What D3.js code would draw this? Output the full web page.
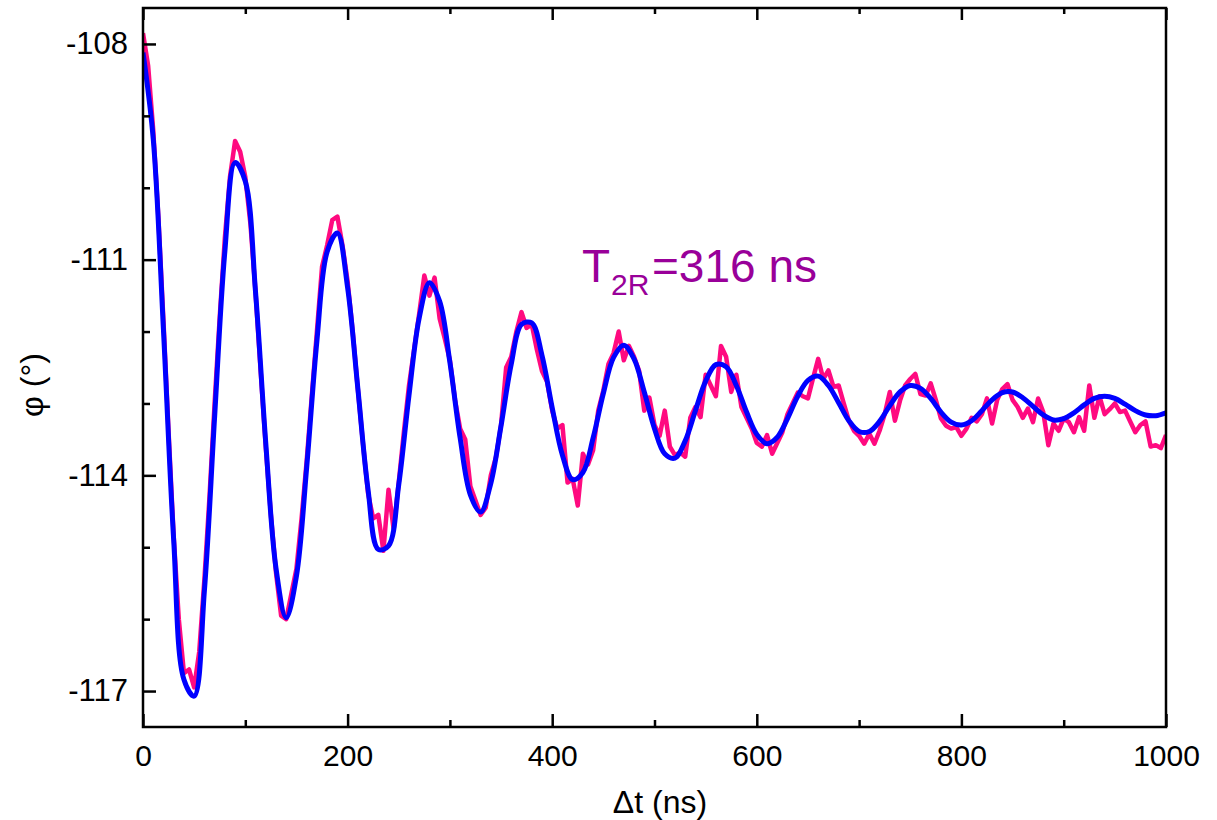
<!DOCTYPE html>
<html>
<head>
<meta charset="utf-8">
<script src="https://cdn.jsdelivr.net/npm/d3@7"></script>
<style>
  body { margin: 0; background: #fff; }
  svg { display: block; }
  text { font-family: "Liberation Sans", Arial, sans-serif; fill: #000; }
</style>
</head>
<body>
<script>
// measured phase (pink), one sample every 5 ns from 0 to 1000 ns
var measStep = 5;
var measured = [
  -107.85, -108.30, -109.20, -110.40, -111.85, -113.40, -114.85, -116.00, -116.75, -116.70,
  -116.95, -116.45, -115.45, -114.30, -113.00, -111.80, -110.70, -109.85, -109.35, -109.50,
  -109.85, -110.50, -111.45, -112.55, -113.60, -114.55, -115.35, -115.95, -116.00, -115.65,
  -115.30, -114.60, -113.80, -112.90, -112.00, -111.10, -110.80, -110.45, -110.40, -110.80,
  -111.30, -112.00, -112.80, -113.55, -114.25, -114.60, -114.55, -115.05, -114.20, -114.75,
  -114.10, -113.40, -112.75, -112.25, -111.75, -111.22, -111.50, -111.25, -111.82, -112.10,
  -112.40, -112.95, -113.35, -113.50, -114.15, -114.35, -114.55, -114.45, -114.00, -113.75,
  -113.30, -112.50, -112.35, -112.00, -111.73, -111.95, -111.90, -112.25, -112.55, -112.70,
  -113.10, -113.35, -113.30, -114.10, -114.05, -114.42, -113.70, -113.85, -113.65, -113.10,
  -112.82, -112.45, -112.30, -112.00, -112.40, -112.20, -112.35, -112.55, -113.10, -112.92,
  -113.30, -113.45, -113.10, -113.60, -113.72, -113.68, -113.74, -113.20, -113.05, -113.19,
  -112.60, -112.75, -112.90, -112.20, -112.35, -112.84, -112.60, -113.05, -113.20, -113.35,
  -113.55, -113.60, -113.44, -113.70, -113.55, -113.40, -113.15, -113.00, -112.85, -112.90,
  -112.93, -112.65, -112.38, -112.66, -112.54, -112.77, -112.75, -113.00, -113.24, -113.38,
  -113.45, -113.56, -113.42, -113.56, -113.38, -113.15, -112.84, -113.24, -112.96, -112.75,
  -112.66, -112.59, -112.87, -112.89, -112.72, -112.95, -113.21, -113.31, -113.35, -113.33,
  -113.45, -113.35, -113.20, -113.25, -113.15, -112.93, -113.28, -112.95, -112.80, -112.73,
  -112.95, -113.05, -113.20, -113.07, -113.26, -112.93, -113.12, -113.58, -113.28, -113.38,
  -113.21, -113.26, -113.40, -113.19, -113.38, -112.75, -113.20, -112.90, -113.15, -113.08,
  -113.00, -113.12, -113.10, -113.25, -113.40, -113.30, -113.25, -113.60, -113.58, -113.62,
  -113.44
];

// fitted curve (blue), one value every 10 ns
var fitStep = 10;
var fitted = [
  -108.12, -109.32, -111.98, -114.90, -116.84, -117.07, -115.61, -113.19, -110.89, -109.65,
  -109.91, -111.45, -113.55, -115.29, -115.98, -115.40, -113.89, -112.13, -110.89, -110.63,
  -111.39, -112.79, -114.20, -115.03, -114.98, -114.13, -112.89, -111.81, -111.32, -111.58,
  -112.43, -113.48, -114.27, -114.51, -114.11, -113.31, -112.45, -111.90, -111.88, -112.33,
  -113.06, -113.72, -114.06, -113.96, -113.48, -112.86, -112.36, -112.19, -112.38, -112.84,
  -113.35, -113.70, -113.76, -113.52, -113.10, -112.69, -112.46, -112.49, -112.75, -113.12,
  -113.43, -113.56, -113.47, -113.21, -112.90, -112.68, -112.62, -112.75, -112.99, -113.24,
  -113.39, -113.39, -113.25, -113.03, -112.84, -112.75, -112.79, -112.93, -113.12, -113.26,
  -113.30, -113.24, -113.10, -112.95, -112.85, -112.84, -112.92, -113.04, -113.16, -113.23,
  -113.21, -113.13, -113.02, -112.93, -112.90, -112.93, -113.01, -113.10, -113.16, -113.17,
  -113.13
];

var xMajor = [0, 200, 400, 600, 800, 1000];
var xMinor = [100, 300, 500, 700, 900];
var yMajor = [-108, -111, -114, -117];
var yMinor = [-109, -110, -112, -113, -115, -116];

var W = 1217, H = 820;
var margin = {left: 143, right: 51, top: 8, bottom: 93};

var svg = d3.select("body")
    .append("svg")
    .attr("width", W)
    .attr("height", H);

var x = d3.scaleLinear()
    .domain([0, 1000])
    .range([margin.left, W - margin.right]);

var y = d3.scaleLinear()
    .domain([-117.5, -107.5])
    .range([H - margin.bottom, margin.top]);

// data lines
svg.append("clipPath").attr("id", "plot")
    .append("rect")
    .attr("x", margin.left).attr("y", margin.top)
    .attr("width", W - margin.left - margin.right)
    .attr("height", H - margin.top - margin.bottom);

var measLine = d3.line()
    .x(function(d, i) { return x(i * measStep); })
    .y(function(d) { return y(d); });

var fitLine = d3.line()
    .curve(d3.curveCatmullRom)
    .x(function(d, i) { return x(i * fitStep); })
    .y(function(d) { return y(d); });

svg.append("path")
    .datum(measured)
    .attr("clip-path", "url(#plot)")
    .attr("d", measLine)
    .attr("fill", "none")
    .attr("stroke", "#ff0a80")
    .attr("stroke-width", 4.5)
    .attr("stroke-linejoin", "round");

svg.append("path")
    .datum(fitted)
    .attr("clip-path", "url(#plot)")
    .attr("d", fitLine)
    .attr("fill", "none")
    .attr("stroke", "#0000ff")
    .attr("stroke-width", 5)
    .attr("stroke-linejoin", "round");

// axes (ticks point inward)
function styleAxis(size) {
    return function(g) {
        g.select(".domain").remove();
        g.selectAll(".tick line").attr("stroke", "#000").attr("stroke-width", 2.5);
        g.selectAll(".tick text").style("font-size", size + "px").attr("fill", "#000");
    };
}

// plain hyphen for negative numbers, like the original
function plain(d) { return String(d); }

var yBottom = H - margin.bottom;

svg.append("g")
    .attr("transform", "translate(0," + yBottom + ")")
    .call(d3.axisBottom(x).tickValues(xMajor).tickSize(-13).tickPadding(18).tickFormat(plain))
    .call(styleAxis(30));

svg.append("g")
    .attr("transform", "translate(0," + yBottom + ")")
    .call(d3.axisBottom(x).tickValues(xMinor).tickSize(-7).tickFormat(""))
    .call(styleAxis(30));

svg.append("g")
    .attr("transform", "translate(0," + margin.top + ")")
    .call(d3.axisTop(x).tickValues(xMajor).tickSize(-12).tickFormat(""))
    .call(styleAxis(30));

svg.append("g")
    .attr("transform", "translate(0," + margin.top + ")")
    .call(d3.axisTop(x).tickValues(xMinor).tickSize(-6).tickFormat(""))
    .call(styleAxis(30));

svg.append("g")
    .attr("transform", "translate(" + margin.left + ",0)")
    .call(d3.axisLeft(y).tickValues(yMajor).tickSize(-13).tickPadding(15).tickFormat(plain))
    .call(styleAxis(31));

svg.append("g")
    .attr("transform", "translate(" + margin.left + ",0)")
    .call(d3.axisLeft(y).tickValues(yMinor).tickSize(-7).tickFormat(""))
    .call(styleAxis(31));

// frame
svg.append("rect")
    .attr("x", margin.left)
    .attr("y", margin.top)
    .attr("width", W - margin.left - margin.right)
    .attr("height", H - margin.top - margin.bottom)
    .attr("fill", "none")
    .attr("stroke", "#000")
    .attr("stroke-width", 2.5);

// axis titles
svg.append("text")
    .attr("x", 660)
    .attr("y", 813)
    .attr("text-anchor", "middle")
    .style("font-size", "32px")
    .text("\u0394t (ns)");

svg.append("text")
    .attr("transform", "translate(43,385) rotate(-90)")
    .attr("text-anchor", "middle")
    .style("font-size", "32px")
    .text("\u03c6 (\u00b0)");

// annotation
var note = svg.append("text")
    .attr("x", 582)
    .attr("y", 282)
    .style("fill", "#990099")
    .style("font-size", "46px");
note.append("tspan").style("fill", "#990099").text("T");
note.append("tspan").attr("x", 611).attr("dy", 13).style("font-size", "30px").style("fill", "#990099").text("2R");
note.append("tspan").attr("x", 652).attr("dy", -13).style("fill", "#990099").text("=316 ns");
</script>
</body>
</html>
